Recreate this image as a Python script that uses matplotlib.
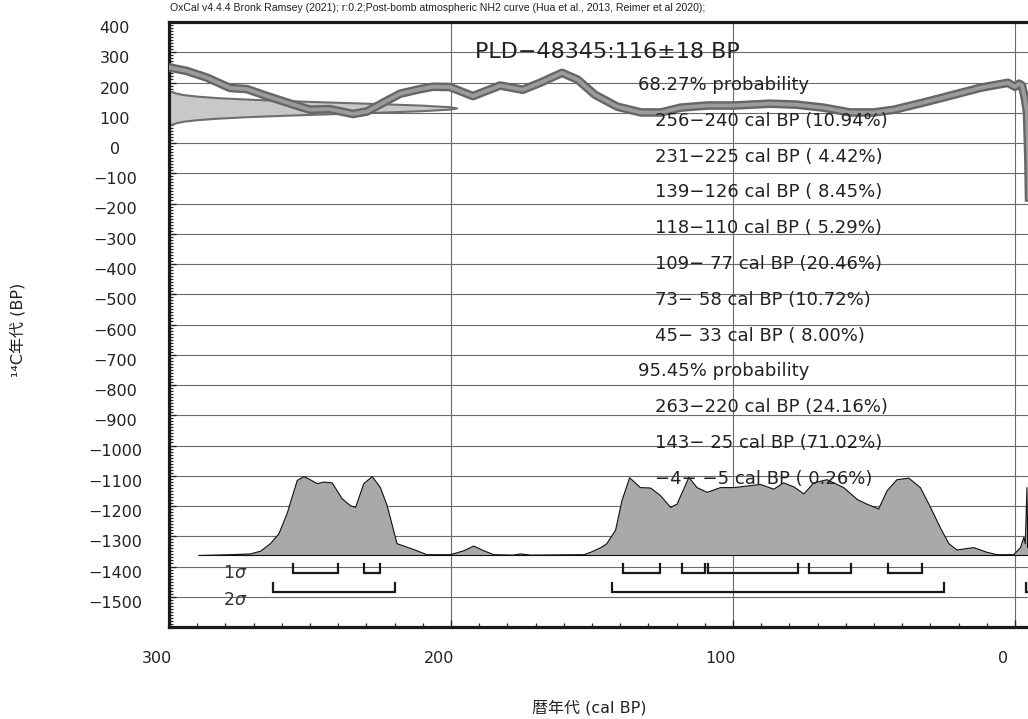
import numpy as np
import matplotlib
matplotlib.use("Agg")
import matplotlib.pyplot as plt
import matplotlib.transforms as mtransforms
from matplotlib.ticker import MultipleLocator, FixedLocator

plt.rcParams['font.family'] = ['DejaVu Sans', 'Noto Sans CJK JP']

# calibration curve (cal BP -> 14C BP)
curve_cal = [300, 293.6, 286.5, 278.4, 272.3, 265.2, 258.2, 250, 243, 234.8, 229.8,
             222.7, 218, 211, 206.4, 200.4, 192.2, 182.6, 174.5, 168.4, 160.6, 155,
             149, 141, 132.6, 125.5, 118.5, 109, 99.3, 87, 77.7, 68, 58.5, 50, 42.9,
             32.3, 22.7, 12, 2.5, 0, -1.5, -2.5, -3.5, -4.3, -4.8, -5.2]
curve_bp = [250, 238, 216, 182, 178, 155, 134, 110, 112, 96, 104,
            140, 163, 178, 186, 185, 155, 190, 176, 199, 232, 209,
            160, 120, 101, 101, 117, 124, 124, 130, 127, 117, 101, 101, 110,
            134, 157, 183, 199, 186, 196, 190, 150, 100, -60, -300]

# measured date 116 +/- 18 BP, drawn sideways on the y axis
date_bp = [170, 165, 160, 155, 150, 145, 140, 135, 130, 125, 120, 116,
           112, 107, 102, 97, 92, 87, 82, 77, 72, 67, 62]
date_width = [1.1, 2.5, 5.1, 9.8, 17.1, 27.9, 41.9, 58.4, 75.4, 90, 99.5, 102,
              99.5, 90, 75.4, 58.4, 41.9, 27.9, 17.1, 9.8, 5.1, 2.5, 1.1]

# calibrated probability distribution (relative height)
prob_cal = [289.6, 278.4, 271.3, 267.7, 264.2, 261.2, 258.3, 254.7, 252.4, 250.6,
            247.6, 245.3, 242.3, 238.8, 235.8, 234, 231.1, 228.1, 225.2, 222.8,
            219.3, 215.7, 212.2, 208.7, 200.4, 195.6, 192.1, 188.5, 185, 178,
            175.5, 172, 153, 150.7, 147, 144.9, 141.8, 139.5, 136.8, 133,
            129.4, 125.9, 122.3, 120, 115.8, 112.9, 109.3, 104.6, 99.9, 95.2,
            90.4, 85.7, 82.2, 78.6, 75, 71.5, 66.8, 60.9, 56.1, 52.6,
            48.5, 45.5, 42, 37.8, 33.7, 30.1, 26.6, 23.6, 20.7, 14.8,
            10, 6.5, 0.6, -1.8, -3.0, -3.5, -4.1, -4.4, -4.7, -5.2]
prob_dens = [0, 0.01, 0.02, 0.055, 0.15, 0.275, 0.53, 0.95, 1.0, 0.97,
             0.91, 0.93, 0.92, 0.72, 0.63, 0.61, 0.91, 1.0, 0.86, 0.63,
             0.15, 0.105, 0.06, 0.01, 0.01, 0.06, 0.12, 0.06, 0.01, 0.005,
             0.02, 0.005, 0.01, 0.04, 0.1, 0.15, 0.32, 0.70, 0.985, 0.86,
             0.855, 0.76, 0.61, 0.65, 0.99, 0.86, 0.80, 0.86, 0.86, 0.88,
             0.90, 0.84, 0.92, 0.87, 0.78, 0.92, 0.96, 0.86, 0.71, 0.65,
             0.59, 0.82, 0.96, 0.98, 0.86, 0.61, 0.35, 0.15, 0.07, 0.10,
             0.04, 0.01, 0.01, 0.10, 0.23, 0.15, 0.86, 0.1, 0.3, 0.5]

sigma1 = [(256, 240), (231, 225), (139, 126), (118, 110), (109, 77), (73, 58), (45, 33)]
sigma2 = [(263, 220), (143, 25), (-4, -5)]

title_text = ("OxCal v4.4.4 Bronk Ramsey (2021); r:0.2;Post-bomb atmospheric NH2 curve "
              "(Hua et al., 2013, Reimer et al 2020);")
sample_text = "PLD\u221248345:116\u00b118 BP"
prob_lines = ["68.27% probability",
              "256\u2212240 cal BP (10.94%)",
              "231\u2212225 cal BP ( 4.42%)",
              "139\u2212126 cal BP ( 8.45%)",
              "118\u2212110 cal BP ( 5.29%)",
              "109\u2212 77 cal BP (20.46%)",
              "73\u2212 58 cal BP (10.72%)",
              "45\u2212 33 cal BP ( 8.00%)",
              "95.45% probability",
              "263\u2212220 cal BP (24.16%)",
              "143\u2212 25 cal BP (71.02%)",
              "\u22124\u2212 \u22125 cal BP ( 0.26%)"]

W, H = 1028, 719
fig = plt.figure(figsize=(W / 100, H / 100), dpi=100)
ax = fig.add_axes([169 / W, 92 / H, 860 / W, 605 / H])
ax.set_xlim(300, -5)
ax.set_ylim(-1600, 400)

# grid
ax.xaxis.set_major_locator(FixedLocator([300, 200, 100, 0]))
ax.xaxis.set_minor_locator(MultipleLocator(10))
yt = list(range(400, -1601, -100))
ax.yaxis.set_major_locator(FixedLocator(yt))
ax.yaxis.set_minor_locator(MultipleLocator(10))
ax.grid(True, which='major', color='#6a6a6a', lw=0.8)
ax.set_axisbelow(True)

ax.set_xticklabels(['300', '200', '100', '0'])
ax.set_yticklabels([f"{v}".replace('-', '\u2212') if v > -1600 else '' for v in yt], ha='center')

ax.tick_params(axis='both', which='both', direction='in', colors='#222222')
ax.tick_params(axis='both', which='major', length=5, width=1.0, labelsize=11.5, labelcolor='#222222')
ax.tick_params(axis='both', which='minor', length=3.2, width=0.9)
ax.tick_params(axis='y', which='major', pad=39)
ax.tick_params(axis='x', which='major', pad=17)

for lab in ax.get_yticklabels():
    lab.set_transform(lab.get_transform() + mtransforms.ScaledTranslation(0, -0.05, fig.dpi_scale_trans))
for lab in ax.get_xticklabels():
    lab.set_transform(lab.get_transform() + mtransforms.ScaledTranslation(-0.12, 0, fig.dpi_scale_trans))

for side in ['left', 'bottom', 'top']:
    ax.spines[side].set_linewidth(2.3)
    ax.spines[side].set_color('#1a1a1a')
ax.spines['right'].set_visible(False)

# measured date profile
ax.fill_betweenx(date_bp, 300, 300 - np.array(date_width), facecolor='#c8c8c8',
                 edgecolor='#6e6e6e', lw=1.5, zorder=2)

# calibration curve
ax.plot(curve_cal, curve_bp, color='#666666', lw=6.2, solid_joinstyle='round', zorder=3)
ax.plot(curve_cal, curve_bp, color='#9b9b9b', lw=2.8, solid_joinstyle='round', zorder=3)

# calibrated distribution
base = -1362
scale = 261
ax.fill_between(prob_cal, base, base + np.array(prob_dens) * scale, facecolor='#a8a9ab',
                edgecolor='#111111', lw=0.8, zorder=2)

# sigma range brackets
for (a, b) in sigma1:
    ax.plot([a, a, b, b], [-1393, -1422, -1422, -1393], color='#1a1a1a', lw=1.6,
            solid_joinstyle='miter', zorder=4)
for (a, b) in sigma2:
    ax.plot([a, a, b, b], [-1455, -1485, -1485, -1455], color='#1a1a1a', lw=1.6,
            solid_joinstyle='miter', zorder=4)

def fx(px):
    return px / W

def fy(py):
    return 1 - py / H

fig.text(fx(235), fy(573), r'1$\sigma$', ha='center', va='center', fontsize=12.5, color='#333333')
fig.text(fx(235), fy(600), r'2$\sigma$', ha='center', va='center', fontsize=12.5, color='#333333')

fig.text(fx(170), fy(8), title_text, ha='left', va='center', fontsize=7.6,
         family=['Liberation Sans', 'DejaVu Sans'], color='#222222')
fig.text(fx(475), fy(52), sample_text, ha='left', va='center', fontsize=16, color='#222222')

for i, line in enumerate(prob_lines):
    xpos = 638 if 'probability' in line else 655
    fig.text(fx(xpos), fy(85 + i * 35.8), line, ha='left', va='center', fontsize=13,
             color='#222222', zorder=5)

fig.text(fx(18), fy(330), '\u00b9\u2074C年代 (BP)', rotation=90, ha='center', va='center',
         fontsize=11.5, color='#222222')
fig.text(fx(589), fy(708), '暦年代 (cal BP)', ha='center', va='center', fontsize=11.5,
         color='#222222')

fig.savefig('out.png', dpi=100)
